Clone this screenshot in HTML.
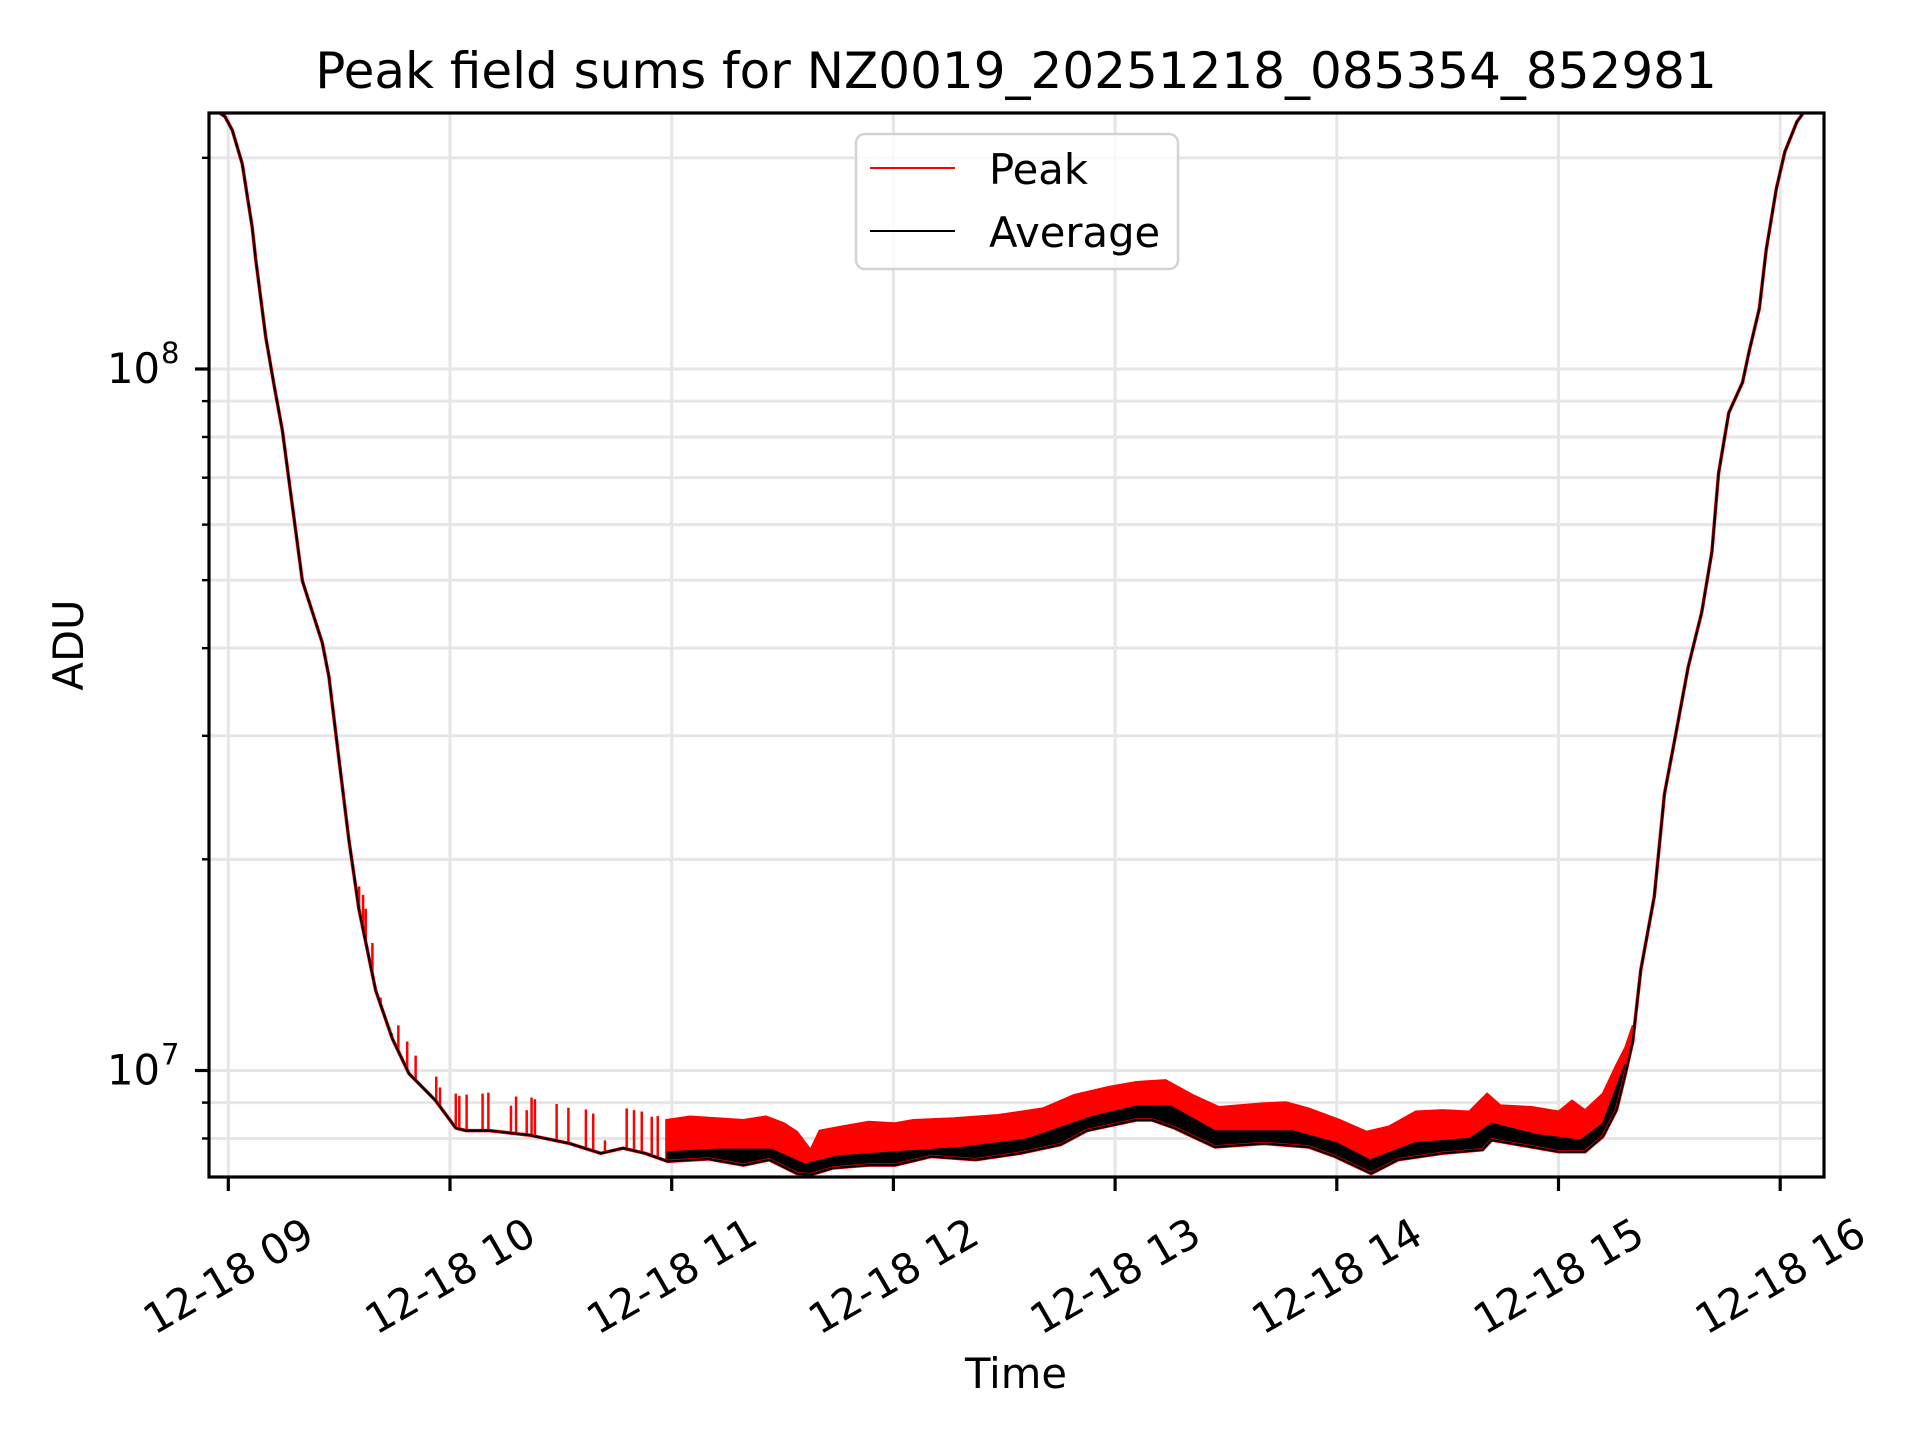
<!DOCTYPE html>
<html><head><meta charset="utf-8"><style>
html,body{margin:0;padding:0;background:#fff;}
svg{display:block;font-family:"DejaVu Sans","Liberation Sans",sans-serif;}
</style></head><body>
<svg id="chart" width="1920" height="1440" viewBox="0 0 1920 1440" xmlns="http://www.w3.org/2000/svg">
<rect width="1920" height="1440" fill="#fff"/>
<defs><clipPath id="plotclip"><rect x="209" y="113" width="1615" height="1064"/></clipPath></defs>
<g id="grid"></g>
<g id="plot" clip-path="url(#plotclip)"></g>
<rect x="209" y="113" width="1615" height="1064" fill="none" stroke="#000" stroke-width="3.2"/>
<g id="ticks"></g>
<text x="1016" y="88" font-size="50" text-anchor="middle">Peak field sums for NZ0019_20251218_085354_852981</text>
<text x="0" y="0" font-size="41.7" text-anchor="middle" transform="translate(83,645) rotate(-90)">ADU</text>
<text x="1016" y="1388" font-size="41.7" text-anchor="middle">Time</text>
<g>
<rect x="856" y="134" width="322" height="135" rx="9" fill="#fff" fill-opacity="0.8" stroke="#d3d3d3" stroke-width="2.5"/>
<line x1="870" y1="168" x2="955" y2="168" stroke="#f00" stroke-width="2"/>
<text x="989" y="184" font-size="41.7">Peak</text>
<line x1="870" y1="231" x2="955" y2="231" stroke="#000" stroke-width="2"/>
<text x="989" y="247" font-size="41.7">Average</text>
</g>
</svg>
<script>
const avgTimes=[8.90,8.95,8.985,9.018,9.063,9.108,9.124,9.169,9.206,9.244,9.289,9.334,9.424,9.454,9.499,9.544,9.589,9.665,9.740,9.815,9.935,10.026,10.071,10.176,10.357,10.539,10.680,10.781,10.88,10.982,11.164,11.324,11.44,11.565,11.626,11.727,11.888,12.007,12.17,12.371,12.571,12.754,12.873,13.096,13.166,13.268,13.45,13.671,13.873,13.992,14.155,14.276,14.477,14.658,14.698,14.88,15.0,15.12,15.2,15.262,15.302,15.335,15.371,15.432,15.478,15.524,15.585,15.646,15.692,15.722,15.768,15.83,15.86,15.906,15.937,15.983,16.021,16.075,16.105,16.20];
const avgValues=[2.33e8,2.33e8,2.29e8,2.19e8,1.96e8,1.59e8,1.43e8,1.11e8,9.5e7,8.17e7,6.38e7,4.99e7,4.07e7,3.64e7,2.78e7,2.13e7,1.70e7,1.30e7,1.11e7,9.9e6,9.06e6,8.28e6,8.21e6,8.21e6,8.09e6,7.87e6,7.62e6,7.75e6,7.62e6,7.42e6,7.48e6,7.33e6,7.46e6,7.13e6,7.1e6,7.26e6,7.33e6,7.33e6,7.54e6,7.46e6,7.62e6,7.84e6,8.21e6,8.5e6,8.5e6,8.28e6,7.78e6,7.87e6,7.78e6,7.54e6,7.13e6,7.46e6,7.62e6,7.71e6,7.96e6,7.78e6,7.66e6,7.66e6,8.05e6,8.79e6,9.9e6,1.1e7,1.39e7,1.77e7,2.48e7,2.96e7,3.76e7,4.5e7,5.49e7,7.1e7,8.66e7,9.57e7,1.06e8,1.22e8,1.48e8,1.81e8,2.04e8,2.25e8,2.32e8,2.33e8];
const peakTimes=[10.975,11.083,11.203,11.324,11.425,11.506,11.565,11.626,11.667,11.767,11.888,12.007,12.09,12.271,12.472,12.674,12.815,12.975,13.096,13.228,13.349,13.469,13.671,13.771,13.873,14.014,14.134,14.235,14.356,14.477,14.597,14.678,14.738,14.88,15.0,15.061,15.12,15.2,15.262,15.302,15.335];
const peakValues=[8.5e6,8.6e6,8.55e6,8.5e6,8.6e6,8.41e6,8.18e6,7.71e6,8.21e6,8.32e6,8.45e6,8.41e6,8.5e6,8.55e6,8.64e6,8.83e6,9.23e6,9.48e6,9.63e6,9.69e6,9.23e6,8.87e6,8.98e6,9.01e6,8.83e6,8.5e6,8.18e6,8.32e6,8.74e6,8.78e6,8.74e6,9.27e6,8.92e6,8.87e6,8.74e6,9.06e6,8.78e6,9.27e6,1.02e7,1.08e7,1.16e7];
const bandTimes=[10.98,11.2,11.45,11.6,11.75,12.0,12.3,12.6,12.9,13.1,13.25,13.45,13.8,14.0,14.15,14.35,14.6,14.7,14.9,15.1,15.2,15.3];
const bandValues=[7.65e6,7.72e6,7.72e6,7.35e6,7.55e6,7.65e6,7.76e6,7.98e6,8.6e6,8.9e6,8.9e6,8.2e6,8.2e6,7.88e6,7.45e6,7.88e6,8.0e6,8.4e6,8.1e6,7.95e6,8.4e6,1.02e7];
const spikeTimes=[9.590,9.608,9.620,9.650,9.687,9.737,9.767,9.807,9.845,9.938,9.955,10.026,10.042,10.075,10.147,10.173,10.275,10.298,10.346,10.368,10.383,10.481,10.534,10.613,10.646,10.699,10.797,10.830,10.865,10.910,10.937,10.978,11.007];
const spikeValues=[1.83e7,1.78e7,1.70e7,1.52e7,1.27e7,1.13e7,1.16e7,1.10e7,1.05e7,9.8e6,9.46e6,9.27e6,9.2e6,9.24e6,9.27e6,9.3e6,8.91e6,9.18e6,8.78e6,9.15e6,9.1e6,8.96e6,8.85e6,8.8e6,8.68e6,7.95e6,8.83e6,8.78e6,8.74e6,8.59e6,8.61e6,8.5e6,8.45e6];
const hourTicks=[9,10,11,12,13,14,15,16];
const hourLabels=["12-18 09","12-18 10","12-18 11","12-18 12","12-18 13","12-18 14","12-18 15","12-18 16"];
const minorValues=[8e6,9e6,2e7,3e7,4e7,5e7,6e7,7e7,8e7,9e7,2e8];
const majorValues=[1e7,1e8];
const majorExponents=["7","8"];

const NS="http://www.w3.org/2000/svg";
function xs(t){return 228.3+(t-9)*221.7;}
function ys(v){return 1070.5-(Math.log10(v)-7)*701.5;}
function avgAt(t){
  for(let i=0;i<avgTimes.length-1;i++){
    if(t>=avgTimes[i]&&t<=avgTimes[i+1]){
      const f=(t-avgTimes[i])/(avgTimes[i+1]-avgTimes[i]);
      return Math.pow(10,Math.log10(avgValues[i])*(1-f)+Math.log10(avgValues[i+1])*f);
    }
  }
  return avgValues[avgValues.length-1];
}
function mk(tag,attrs,parent){const e=document.createElementNS(NS,tag);for(const k in attrs)e.setAttribute(k,attrs[k]);parent.appendChild(e);return e;}
const grid=document.getElementById('grid'),plot=document.getElementById('plot'),ticks=document.getElementById('ticks');

minorValues.concat(majorValues).forEach(v=>{
  const y=ys(v);
  const g=mk('line',{x1:209,x2:1824,y1:y,y2:y,stroke:'#e6e6e6','stroke-width':3},grid);
  
  
  const isMajor=majorValues.indexOf(v)>=0;
  const tk=mk('line',{x1:isMajor?195:202,x2:209,y1:y,y2:y,stroke:'#000','stroke-width':isMajor?3.2:2.4},ticks);
  
  
});
majorValues.forEach((v,i)=>{
  const t=mk('text',{x:160,y:ys(v)+14,'font-size':41.7,'text-anchor':'end'},ticks);
  t.textContent='10';
  
  
  const s=mk('text',{x:161,y:ys(v)-6,'font-size':29},ticks);
  s.textContent=majorExponents[i];
  
  
});
hourTicks.forEach((h,i)=>{
  const x=xs(h);
  const g=mk('line',{x1:x,x2:x,y1:113,y2:1177,stroke:'#e6e6e6','stroke-width':3},grid);
  
  
  const tk=mk('line',{x1:x,x2:x,y1:1177,y2:1191,stroke:'#000','stroke-width':3.2},ticks);
  
  
  const lb=mk('text',{x:0,y:0,'font-size':41.7,'text-anchor':'middle','dominant-baseline':'central',transform:'translate('+x+',1276) rotate(-30)'},ticks);
  lb.textContent=hourLabels[i];
  
  
});

let pts=peakTimes.map((t,i)=>xs(t)+','+ys(peakValues[i]));
const t0=peakTimes[0],t1=peakTimes[peakTimes.length-1];
let back=[xs(t1)+','+ys(avgAt(t1))];
for(let i=avgTimes.length-1;i>=0;i--){if(avgTimes[i]>t0&&avgTimes[i]<t1)back.push(xs(avgTimes[i])+','+ys(avgValues[i]));}
back.push(xs(t0)+','+ys(avgAt(t0)));
const pf=mk('polygon',{points:pts.concat(back).join(' '),fill:'#f00',stroke:'#f00','stroke-width':2},plot);



spikeTimes.forEach((t,i)=>{
  const x=xs(t);
  const sp=mk('line',{x1:x,x2:x,y1:ys(avgAt(t)),y2:ys(spikeValues[i]),stroke:'#f00','stroke-width':2.5},plot);
  
  
});

const b0=bandTimes[0],b1=bandTimes[bandTimes.length-1];
let bp=bandTimes.map((t,i)=>xs(t)+','+ys(bandValues[i]));
let bb=[xs(b1)+','+ys(avgAt(b1))];
for(let i=avgTimes.length-1;i>=0;i--){if(avgTimes[i]>b0&&avgTimes[i]<b1)bb.push(xs(avgTimes[i])+','+ys(avgValues[i]));}
bb.push(xs(b0)+','+ys(avgAt(b0)));
const bf=mk('polygon',{points:bp.concat(bb).join(' '),fill:'#000',stroke:'#000','stroke-width':1.5},plot);



const pl=mk('polyline',{points:avgTimes.map((t,i)=>xs(t)+','+ys(avgValues[i])).join(' '),fill:'none',stroke:'#f00','stroke-width':3.5,'stroke-linejoin':'round'},plot);


const al=mk('polyline',{points:avgTimes.map((t,i)=>xs(t)+','+ys(avgValues[i])).join(' '),fill:'none',stroke:'#000','stroke-width':2.2,'stroke-linejoin':'round'},plot);


</script>
</body></html>
